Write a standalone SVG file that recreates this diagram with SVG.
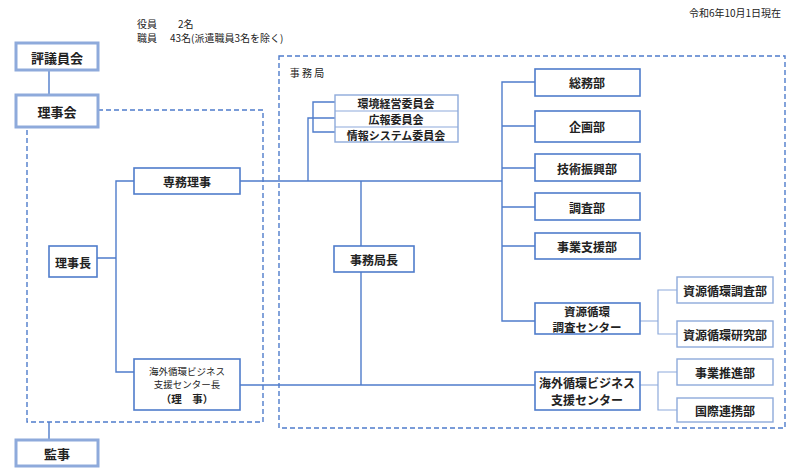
<svg xmlns="http://www.w3.org/2000/svg" width="800" height="470" viewBox="0 0 800 470">
<style>
text{font-family:"Noto Sans CJK JP","Noto Sans",sans-serif;fill:#222;text-anchor:middle;dominant-baseline:central}
.b{fill:#fff;stroke:#4F7CCB;stroke-width:1.6}
.l{fill:#fff;stroke:#8EAADB;stroke-width:1.4}
.t{fill:#fff;stroke:#8EAADB;stroke-width:3}
.c{fill:none;stroke:#4F7CCB;stroke-width:1.4}
.cl{fill:none;stroke:#8EAADB;stroke-width:1.2}
.d{fill:none;stroke:#4F7CCB;stroke-width:1.4;stroke-dasharray:5 3}
.n{font-size:12px;font-weight:bold}
.m{font-size:11px;font-weight:bold}
.s{font-size:10px}
</style>
<rect width="800" height="470" fill="#fff"/>
<text x="735" y="12" class="s">令和6年10月1日現在</text>
<text x="137" y="23" class="s" style="text-anchor:start">役員</text>
<text x="178" y="23" class="s" style="text-anchor:start">2名</text>
<text x="137" y="37" class="s" style="text-anchor:start">職員</text>
<text x="170" y="37" class="s" style="text-anchor:start">43名(派遣職員3名を除く)</text>
<g id="frames">
<path class="d" d="M98 110H263V422H27V127"/>
<rect class="d" x="279" y="56" width="506" height="372"/>
<text x="307" y="72" class="s">事 務 局</text>
</g>
<g id="connectors">
<path class="c" d="M49 70V95M49 422V440"/>
<path class="c" d="M97 258H116M134 181H116V372H134"/>
<path class="c" d="M240 181H502M361 181V246M361 272V385M240 385H535"/>
<path class="c" d="M308 181V118H335M335 102H313V132H335"/>
<path class="c" d="M535 82H502V321H535M502 126H535M502 168H535M502 207H535M502 246H535"/>
<path class="cl" d="M640 321H658M677 290H658V334H677M640 385H658M677 372H658V410H677"/>
</g>
<g id="hyogiinkai"><rect class="t" x="16" y="43" width="82" height="27"/><text x="57" y="57" class="n" style="font-size:13px">評議員会</text></g>
<g id="rijikai"><rect class="t" x="16" y="95" width="82" height="32"/><text x="57" y="111" class="n" style="font-size:13px">理事会</text></g>
<g id="kanji"><rect class="t" x="16" y="440" width="82" height="26"/><text x="57" y="453" class="n" style="font-size:13px">監事</text></g>
<g id="rijicho"><rect class="b" x="49" y="246" width="48" height="31"/><text x="73" y="262" class="n">理事長</text></g>
<g id="senmuriji"><rect class="b" x="134" y="168" width="106" height="26"/><text x="187" y="181" class="n">専務理事</text></g>
<g id="kaigai-cho"><rect class="b" x="134" y="359" width="106" height="51"/>
<text x="187" y="371" style="font-size:9.5px">海外循環ビジネス</text>
<text x="187" y="384" style="font-size:9.5px">支援センター長</text>
<text x="187" y="398" style="font-size:10.5px;font-weight:bold">（理　事）</text></g>
<g id="iinkai"><rect class="l" x="335" y="95" width="123" height="47"/>
<path class="cl" d="M335 111H458M335 127H458"/>
<text x="396" y="103" class="m">環境経営委員会</text>
<text x="396" y="119" class="m">広報委員会</text>
<text x="396" y="134.5" class="m">情報システム委員会</text></g>
<g id="jimukyokucho"><rect class="b" x="334" y="246" width="80" height="26"/><text x="374" y="259" class="n">事務局長</text></g>
<g id="somu"><rect class="b" x="535" y="69" width="105" height="27"/><text x="587" y="82" class="n">総務部</text></g>
<g id="kikaku"><rect class="b" x="535" y="111" width="105" height="31"/><text x="587" y="126" class="n">企画部</text></g>
<g id="gijutsu"><rect class="b" x="535" y="154" width="105" height="27"/><text x="587" y="168" class="n">技術振興部</text></g>
<g id="chosa"><rect class="b" x="535" y="193" width="105" height="27"/><text x="587" y="207" class="n">調査部</text></g>
<g id="jigyoshien"><rect class="b" x="535" y="233" width="105" height="26"/><text x="587" y="246" class="n">事業支援部</text></g>
<g id="shigen-center"><rect class="b" x="535" y="303" width="105" height="31"/>
<text x="587" y="310.5" class="m" style="font-size:11.5px">資源循環</text><text x="587" y="326.5" class="m" style="font-size:11.5px">調査センター</text></g>
<g id="kaigai-center"><rect class="b" x="535" y="372" width="105" height="38"/>
<text x="587" y="382.5" class="n">海外循環ビジネス</text><text x="587" y="399.5" class="n">支援センター</text></g>
<g id="shigen-chosa"><rect class="l" x="677" y="277" width="96" height="26"/><text x="725" y="290" class="n">資源循環調査部</text></g>
<g id="shigen-kenkyu"><rect class="l" x="677" y="321" width="96" height="26"/><text x="725" y="334" class="n">資源循環研究部</text></g>
<g id="jigyosuishin"><rect class="l" x="677" y="359" width="96" height="26"/><text x="725" y="372" class="n">事業推進部</text></g>
<g id="kokusai"><rect class="l" x="677" y="398" width="96" height="24"/><text x="725" y="410" class="n">国際連携部</text></g>
</svg>
